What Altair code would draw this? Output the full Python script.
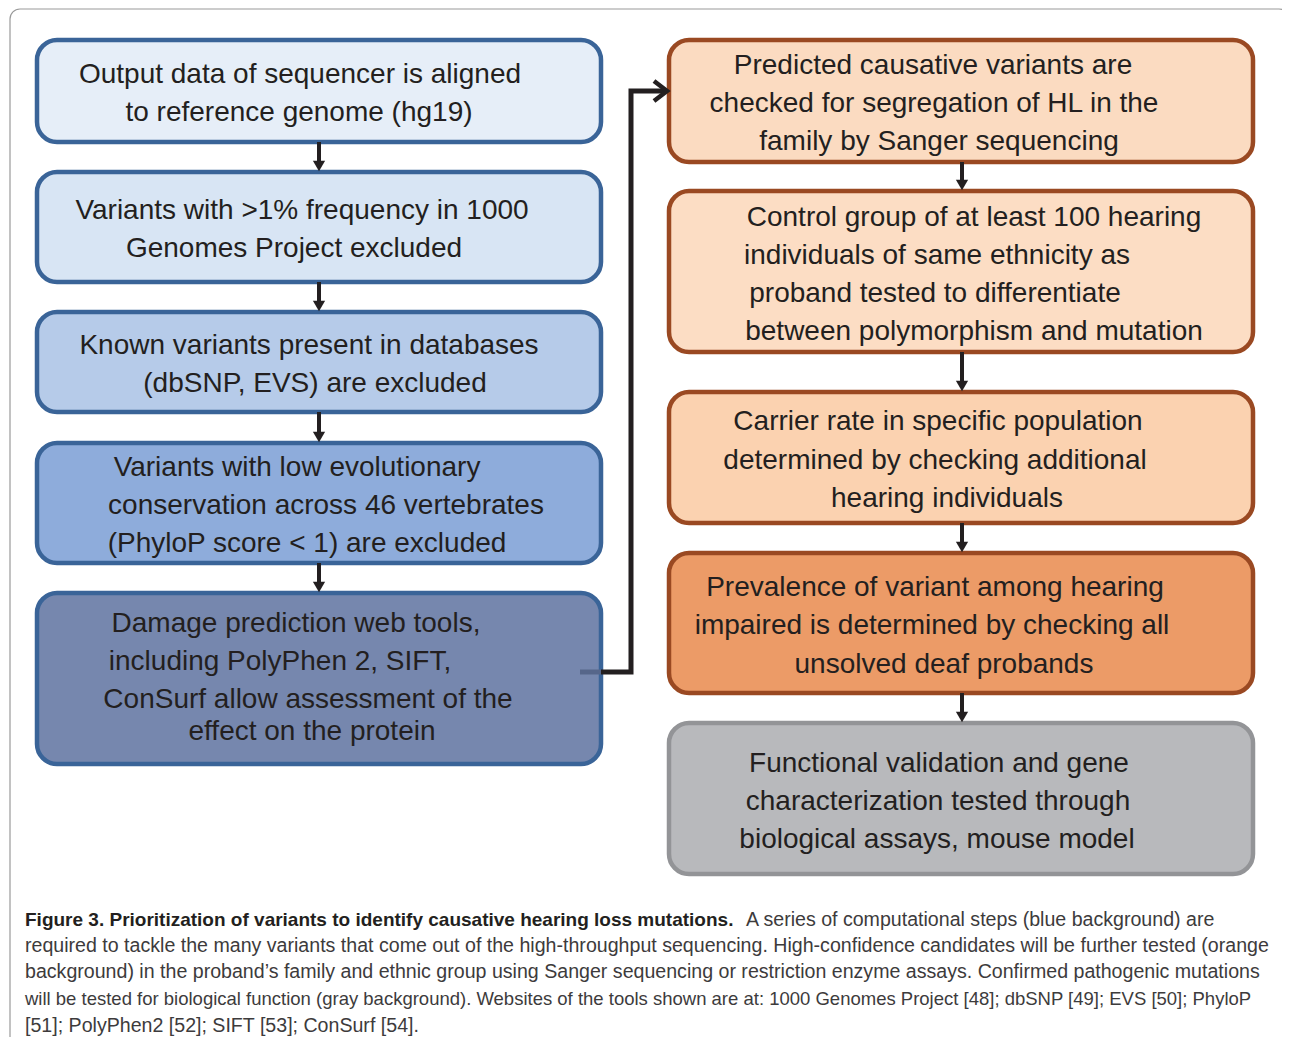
import altair as alt
import pandas as pd

# ---- box content ----
box_ids = ["L1", "L2", "L3", "L4", "L5", "R1", "R2", "R3", "R4", "R5"]
box_fill = ["#e6eef8", "#d8e5f4", "#b6cbe9", "#8eacdb", "#7687ae",
            "#fbdbc1", "#fcddc4", "#fbd2b0", "#ec9b67", "#b8b9bc"]
box_stroke = ["#3a6498"] * 5 + ["#9a4922"] * 4 + ["#939497"]
# layout (pixel frame of the figure)
box_x0 = [37, 37, 37, 37, 37, 669, 669, 669, 669, 669]
box_x1 = [601, 601, 601, 601, 601, 1253, 1253, 1253, 1253, 1253]
box_y0 = [40, 172, 312, 443, 593, 40, 191, 392, 553, 723]
box_y1 = [142, 282, 412, 563, 764, 162, 352, 523, 693, 874]

line_text = [
    "Output data of sequencer is aligned", "to reference genome (hg19)",
    "Variants with >1% frequency in 1000", "Genomes Project excluded",
    "Known variants present in databases", "(dbSNP, EVS) are excluded",
    "Variants with low evolutionary", "conservation across 46  vertebrates",
    "(PhyloP score < 1) are excluded",
    "Damage prediction web tools,", "including PolyPhen 2, SIFT,",
    "ConSurf allow assessment of the", "effect on the protein",
    "Predicted causative variants are", "checked for segregation of HL in the",
    "family by Sanger sequencing",
    "Control group of at least 100  hearing", "individuals of same ethnicity as",
    "proband tested to differentiate", "between polymorphism and mutation",
    "Carrier rate in specific population", "determined by checking additional",
    "hearing individuals",
    "Prevalence of variant among hearing", "impaired is determined by checking all",
    "unsolved deaf probands",
    "Functional validation and gene", "characterization tested through",
    "biological assays, mouse model",
]
line_x = [300, 299, 302, 294, 309, 315, 297, 326, 307, 296, 280, 308, 312,
          933, 934, 939, 974, 937, 935, 974, 938, 935, 947, 935, 932, 944,
          939, 938, 937]
line_y = [75, 113, 211, 249, 346, 384, 468, 506, 544, 624, 662, 700, 732,
          66, 104, 142, 218, 256, 294, 332, 422, 461, 499, 588, 626, 665,
          764, 802, 840]

# down arrows between boxes (x, y_from, y_to)
arrow_x = [319, 319, 319, 319, 962, 962, 962, 962]
arrow_y0 = [142, 282, 412, 563, 162, 352, 523, 693]
arrow_y1 = [172, 312, 443, 593, 191, 392, 553, 723]

# connector from left column to right column
conn_x = [601, 631, 631, 666]
conn_y = [672, 672, 91, 91]
chev_x = [654, 667, 654]
chev_y = [81, 91, 101]

caption_bold = "Figure 3. Prioritization of variants to identify causative hearing loss mutations."
caption_lines = [
    "A series of computational steps (blue background) are",
    "required to tackle the many variants that come out of the high-throughput sequencing. High-confidence candidates will be further tested (orange",
    "background) in the proband\u2019s family and ethnic group using Sanger sequencing or restriction enzyme assays. Confirmed pathogenic mutations",
    "will be tested for biological function (gray background). Websites of the tools shown are at: 1000 Genomes Project [48]; dbSNP [49]; EVS [50]; PhyloP",
    "[51]; PolyPhen2 [52]; SIFT [53]; ConSurf [54].",
]
caption_x = [746, 25, 25, 25, 25]
caption_y = [920, 946, 972, 999, 1026]
caption_size = [19.6, 19.6, 19.6, 18.5, 19.6]

# ---- scales ----
xs = alt.Scale(domain=[8, 1282], nice=False, zero=False)
ys = alt.Scale(domain=[8, 1037], nice=False, zero=False, reverse=True)
X = lambda f: alt.X(f, type="quantitative", scale=xs, axis=None)
Y = lambda f: alt.Y(f, type="quantitative", scale=ys, axis=None)

FONT = "Liberation Sans"
INK = "#231f20"

frame_df = pd.DataFrame({"x0": [10], "x1": [1289], "y0": [9], "y1": [1070]})
frame = alt.Chart(frame_df).mark_rect(
    fill=None, stroke="#9a9a9a", strokeWidth=1.2, cornerRadius=10, clip=True
).encode(x=X("x0"), x2="x1", y=Y("y0"), y2="y1")

boxes_df = pd.DataFrame({"id": box_ids, "x0": box_x0, "x1": box_x1,
                         "y0": box_y0, "y1": box_y1,
                         "fill": box_fill, "stroke": box_stroke})
boxes = alt.Chart(boxes_df).mark_rect(cornerRadius=20, strokeWidth=4.5).encode(
    x=X("x0"), x2="x1", y=Y("y0"), y2="y1",
    fill=alt.Fill("fill:N", scale=None),
    stroke=alt.Stroke("stroke:N", scale=None),
)

arr_df = pd.DataFrame({"x": arrow_x, "y0": arrow_y0,
                       "y1": [v - 9 for v in arrow_y1], "yh": [v - 6 for v in arrow_y1]})
shafts = alt.Chart(arr_df).mark_rule(color=INK, strokeWidth=4).encode(
    x=X("x"), y=Y("y0"), y2="y1")
heads = alt.Chart(arr_df).mark_point(
    shape="triangle-down", filled=True, color=INK, size=150, opacity=1
).encode(x=X("x"), y=Y("yh"))

stub_df = pd.DataFrame({"x": [580], "x2": [601], "y": [672]})
stub = alt.Chart(stub_df).mark_rule(color="#56668a", strokeWidth=5).encode(
    x=X("x"), x2="x2", y=Y("y"))

conn_df = pd.DataFrame({"x": conn_x, "y": conn_y, "o": list(range(len(conn_x)))})
conn = alt.Chart(conn_df).mark_line(color=INK, strokeWidth=5, strokeJoin="miter").encode(
    x=X("x"), y=Y("y"), order="o:Q")
chev_df = pd.DataFrame({"x": chev_x, "y": chev_y, "o": list(range(len(chev_x)))})
chev = alt.Chart(chev_df).mark_line(color=INK, strokeWidth=4.5, strokeJoin="miter").encode(
    x=X("x"), y=Y("y"), order="o:Q")

text_df = pd.DataFrame({"t": line_text, "x": line_x, "y": line_y})
texts = alt.Chart(text_df).mark_text(
    font=FONT, fontSize=28, color=INK, align="center", baseline="middle"
).encode(x=X("x"), y=Y("y"), text="t:N")

capb_df = pd.DataFrame({"t": [caption_bold], "x": [25], "y": [caption_y[0]]})
capb = alt.Chart(capb_df).mark_text(
    font=FONT, fontSize=19, fontWeight="bold", color="#231f20",
    align="left", baseline="middle"
).encode(x=X("x"), y=Y("y"), text="t:N")
cap_df = pd.DataFrame({"t": caption_lines, "x": caption_x, "y": caption_y,
                       "fs": caption_size})
cap = alt.Chart(cap_df).mark_text(
    font=FONT, color="#3d3b3c", align="left", baseline="middle"
).encode(x=X("x"), y=Y("y"), text="t:N", size=alt.Size("fs:Q", scale=None))

chart = alt.layer(frame, boxes, shafts, heads, stub, conn, chev, texts, capb, cap).properties(
    width=1274, height=1029, padding=0, autosize="none", background="white"
).configure_view(stroke=None)

chart.save("out.html", embed_options={"renderer": "svg", "actions": False})
